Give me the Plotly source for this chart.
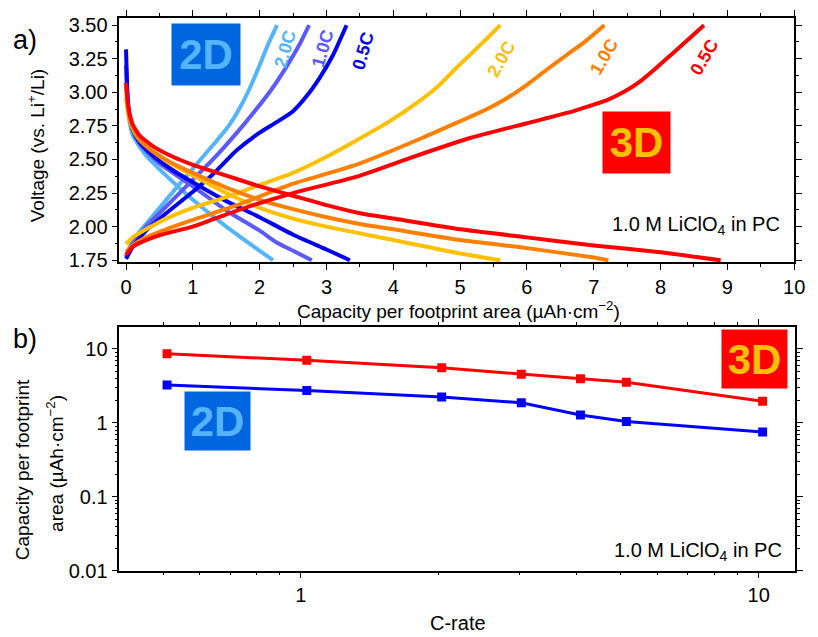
import plotly.graph_objects as go

W, H = 818, 637
FONT = "Liberation Sans, Arial, sans-serif"

# ---------------- Panel a) data: capacity (uAh/cm2) vs voltage (V) ----------------
# 2D electrode, 2.0C (light blue)
cap_2d_2c_dis = [0, 0.03, 0.1, 0.3, 0.6, 1.0, 1.5, 2.0, 2.2]
v_2d_2c_dis = [3.20, 2.85, 2.68, 2.53, 2.38, 2.20, 2.00, 1.82, 1.75]
cap_2d_2c_chg = [0, 0.05, 0.15, 0.35, 0.84, 1.34, 1.55, 1.72, 1.86, 1.99, 2.12, 2.26]
v_2d_2c_chg = [1.77, 1.84, 1.93, 2.05, 2.34, 2.63, 2.76, 2.90, 3.04, 3.19, 3.35, 3.50]
# 2D electrode, 1.0C (medium blue)
cap_2d_1c_dis = [0, 0.03, 0.08, 0.2, 0.5, 1.0, 1.5, 2.0, 2.26, 2.5, 2.78]
v_2d_1c_dis = [3.20, 2.90, 2.75, 2.62, 2.47, 2.30, 2.12, 1.97, 1.88, 1.82, 1.75]
cap_2d_1c_chg = [0, 0.1, 0.3, 0.6, 1.0, 1.3, 1.66, 1.91, 2.16, 2.40, 2.60, 2.74]
v_2d_1c_chg = [1.78, 1.88, 2.00, 2.15, 2.35, 2.50, 2.70, 2.85, 3.01, 3.19, 3.36, 3.50]
# 2D electrode, 0.5C (blue)
cap_2d_05c_dis = [0, 0.02, 0.05, 0.1, 0.2, 0.4, 0.7, 1.0, 1.5, 2.0, 2.5, 3.0, 3.35]
v_2d_05c_dis = [3.32, 3.00, 2.82, 2.72, 2.63, 2.53, 2.42, 2.33, 2.19, 2.07, 1.94, 1.83, 1.75]
cap_2d_05c_chg = [0, 0.1, 0.3, 0.6, 1.0, 1.3, 1.66, 2.0, 2.26, 2.5, 2.7, 2.9, 3.1, 3.3]
v_2d_05c_chg = [1.76, 1.85, 1.97, 2.10, 2.26, 2.39, 2.57, 2.70, 2.78, 2.86, 2.97, 3.11, 3.28, 3.50]
# 3D electrode, 2.0C (yellow)
cap_3d_2c_dis = [0, 0.03, 0.08, 0.15, 0.3, 0.6, 1.0, 1.5, 2.0, 2.5, 3.0, 3.5, 4.0, 4.5, 5.0, 5.6]
v_3d_2c_dis = [2.96, 2.85, 2.75, 2.68, 2.60, 2.49, 2.38, 2.25, 2.14, 2.06, 2.00, 1.95, 1.90, 1.85, 1.80, 1.75]
cap_3d_2c_chg = [0, 0.1, 0.3, 0.6, 1.0, 1.5, 2.0, 2.5, 3.0, 3.44, 3.93, 4.43, 4.68, 4.92, 5.17, 5.42, 5.6]
v_3d_2c_chg = [1.87, 1.92, 1.98, 2.06, 2.14, 2.22, 2.31, 2.40, 2.52, 2.64, 2.78, 2.95, 3.05, 3.17, 3.29, 3.41, 3.50]
# 3D electrode, 1.0C (orange)
cap_3d_1c_dis = [0, 0.02, 0.05, 0.1, 0.2, 0.4, 0.7, 1.0, 1.5, 2.0, 2.5, 3.0, 3.5, 4.0, 5.0, 6.0, 7.0, 7.22]
v_3d_1c_dis = [3.05, 2.92, 2.82, 2.74, 2.65, 2.56, 2.47, 2.40, 2.29, 2.20, 2.13, 2.07, 2.02, 1.98, 1.90, 1.84, 1.77, 1.75]
cap_3d_1c_chg = [0, 0.1, 0.3, 0.6, 1.0, 1.66, 2.5, 3.44, 4.43, 5.42, 5.71, 6.01, 6.30, 6.60, 6.85, 7.16]
v_3d_1c_chg = [1.81, 1.86, 1.92, 1.98, 2.05, 2.16, 2.32, 2.46, 2.66, 2.88, 2.96, 3.06, 3.17, 3.28, 3.37, 3.50]
# 3D electrode, 0.5C (red)
cap_3d_05c_dis = [0, 0.02, 0.05, 0.1, 0.2, 0.4, 0.7, 1.0, 1.5, 2.0, 2.5, 3.0, 3.5, 4.0, 5.0, 6.0, 7.0, 8.0, 8.9]
v_3d_05c_dis = [3.07, 2.95, 2.85, 2.76, 2.68, 2.60, 2.52, 2.46, 2.38, 2.30, 2.23, 2.16, 2.10, 2.06, 1.98, 1.92, 1.86, 1.81, 1.75]
cap_3d_05c_chg = [0, 0.1, 0.3, 0.6, 1.0, 1.66, 2.5, 3.44, 4.3, 5.15, 6.0, 6.7, 6.95, 7.19, 7.44, 7.69, 7.93, 8.18, 8.43, 8.65]
v_3d_05c_chg = [1.79, 1.85, 1.90, 1.95, 2.00, 2.12, 2.25, 2.37, 2.52, 2.66, 2.77, 2.86, 2.90, 2.94, 3.00, 3.08, 3.18, 3.29, 3.40, 3.50]

# ---------------- Panel b) data: capacity vs C-rate ----------------
c_rate = [0.51, 1.03, 2.03, 3.03, 4.08, 5.14, 10.2]
cap_3d = [8.6, 7.0, 5.56, 4.55, 3.94, 3.53, 1.96]
cap_2d = [3.26, 2.74, 2.24, 1.87, 1.28, 1.04, 0.75]

# labels
y_ticks_a = [1.75, 2.00, 2.25, 2.50, 2.75, 3.00, 3.25, 3.50]
x_ticks_a = list(range(0, 11))
y_ticks_b = [0.01, 0.1, 1, 10]
x_ticks_b = [1, 10]

C_LB, C_MB, C_B = "#55b4ff", "#5a5aff", "#0000ee"
C_Y, C_O, C_R = "#ffc000", "#ff8000", "#ff0000"

curves = [
    (cap_2d_2c_dis, v_2d_2c_dis, C_LB), (cap_2d_2c_chg, v_2d_2c_chg, C_LB),
    (cap_2d_1c_dis, v_2d_1c_dis, C_MB), (cap_2d_1c_chg, v_2d_1c_chg, C_MB),
    (cap_2d_05c_dis, v_2d_05c_dis, C_B), (cap_2d_05c_chg, v_2d_05c_chg, C_B),
    (cap_3d_2c_dis, v_3d_2c_dis, C_Y), (cap_3d_2c_chg, v_3d_2c_chg, C_Y),
    (cap_3d_1c_dis, v_3d_1c_dis, C_O), (cap_3d_1c_chg, v_3d_1c_chg, C_O),
    (cap_3d_05c_dis, v_3d_05c_dis, C_R), (cap_3d_05c_chg, v_3d_05c_chg, C_R),
]

fig = go.Figure()
for x, y, c in curves:
    fig.add_trace(go.Scatter(x=x, y=y, mode="lines", xaxis="x", yaxis="y",
                             line=dict(color=c, width=4, shape="spline", smoothing=0.5),
                             showlegend=False, hoverinfo="skip"))

fig.add_trace(go.Scatter(x=c_rate, y=cap_3d, mode="lines+markers", xaxis="x2", yaxis="y2",
                         line=dict(color="#ff0000", width=3),
                         marker=dict(symbol="square", size=9, color="#ff0000"), showlegend=False))
fig.add_trace(go.Scatter(x=c_rate, y=cap_2d, mode="lines+markers", xaxis="x2", yaxis="y2",
                         line=dict(color="#0000ff", width=3),
                         marker=dict(symbol="square", size=9, color="#0000ff"), showlegend=False))


def px(x):
    return x / W


def py(y):
    return 1 - y / H


axis_common = dict(showline=True, linecolor="black", linewidth=1.5, mirror="ticks",
                   ticks="outside", ticklen=6, tickwidth=1.3, tickcolor="black",
                   showgrid=False, zeroline=False,
                   tickfont=dict(family=FONT, size=20, color="black"))

minor_b_x = [0.5, 0.6, 0.7, 0.8, 0.9, 2, 3, 4, 5, 6, 7, 8, 9]
minor_b_y = [m * d for d in (0.01, 0.1, 1, 10) for m in range(2, 10)]

fig.update_layout(
    width=W, height=H, margin=dict(l=0, r=0, t=0, b=0),
    paper_bgcolor="white", plot_bgcolor="white", showlegend=False,
    font=dict(family=FONT, color="black"),
    xaxis=dict(domain=[px(121), px(805)], anchor="y", range=[-0.1, 10],
               tickvals=x_ticks_a, ticktext=[str(v) for v in x_ticks_a],
               minor=dict(ticks="outside", ticklen=3, dtick=0.5, tick0=0, tickcolor="black"),
               **axis_common),
    yaxis=dict(domain=[py(265), py(15)], anchor="x", range=[1.7354, 3.556],
               tickvals=y_ticks_a, ticktext=["%.2f" % v for v in y_ticks_a],
               minor=dict(ticks="outside", ticklen=3, dtick=0.125, tick0=1.75, tickcolor="black"),
               **axis_common),
    xaxis2=dict(domain=[px(121), px(806)], anchor="y2", type="log", range=[-0.3966, 1.0797],
                tickvals=x_ticks_b, ticktext=[str(v) for v in x_ticks_b],
                minor=dict(ticks="outside", ticklen=3, tickvals=minor_b_x, tickcolor="black"),
                **axis_common),
    yaxis2=dict(domain=[py(580.5), py(331)], anchor="x2", type="log", range=[-2, 1.30],
                tickvals=y_ticks_b, ticktext=["0.01", "0.1", "1", "10"],
                minor=dict(ticks="outside", ticklen=3, tickvals=minor_b_y, tickcolor="black"),
                **axis_common),
)

ann = []


def add(text, x, y, size=18, color="black", angle=0, **kw):
    ann.append(dict(text=text, x=px(x), y=py(y), xref="paper", yref="paper",
                    showarrow=False, textangle=angle, xanchor="center", yanchor="middle",
                    font=dict(family=FONT, size=size, color=color), **kw))


# panel labels
add("a)", 25, 38, size=27)
add("b)", 25, 344, size=27)

# axis titles
add("Voltage (vs. Li<sup>+</sup>/Li)", 36, 146, size=19, angle=-90)
add("Capacity per footprint area (µAh·cm<sup>−2</sup>)", 465, 314, size=19)
add("Capacity per footprint", 23, 477, size=19, angle=-90)
add("area (µAh·cm<sup>−2</sup>)", 55, 471, size=19, angle=-90)
add("C-rate", 464, 628, size=20, yshift=-6)

# electrolyte labels
add("1.0 M LiClO<sub>4</sub> in PC", 705, 227, size=20)
add("1.0 M LiClO<sub>4</sub> in PC", 708, 561, size=20)

# 2D / 3D boxes
box2d = dict(bgcolor="#0066e0", borderpad=0)
box3d = dict(bgcolor="#ff0000", borderpad=0)
add("<b>2D</b>", 209, 53, size=42, color=C_LB, width=68, height=61, **box2d)
add("<b>3D</b>", 645, 143, size=42, color=C_Y, width=67, height=61, **box3d)
add("<b>2D</b>", 220, 427, size=42, color=C_LB, width=65, height=58, **box2d)
add("<b>3D</b>", 765, 364, size=42, color=C_Y, width=65, height=58, **box3d)

# C-rate labels on curves
add("<b>2.0C</b>", 289, 47, size=18, color=C_LB, angle=-74)
add("<b>1.0C</b>", 327, 47, size=18, color=C_MB, angle=-74)
add("<b>0.5C</b>", 368, 49, size=18, color=C_B, angle=-74)
add("<b>2.0C</b>", 508, 57, size=18, color=C_Y, angle=-60)
add("<b>1.0C</b>", 612, 55, size=18, color=C_O, angle=-60)
add("<b>0.5C</b>", 714, 55, size=18, color=C_R, angle=-60)

fig.update_layout(annotations=ann)
fig.write_html("out.html")
